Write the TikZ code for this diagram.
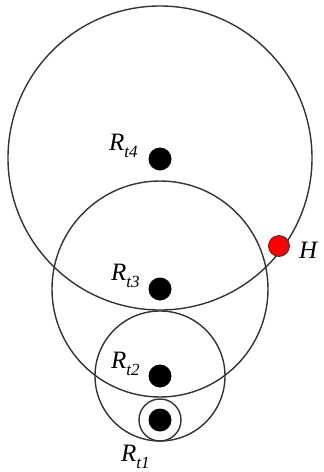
\documentclass[tikz,border=0pt]{standalone}
\usepackage{fontspec}
\setmainfont{Liberation Serif}
\newcommand{\Rlab}[1]{\textit{R}\raisebox{-0.28em}{\fontsize{17}{17}\selectfont\itshape #1}}
\begin{document}
\begin{tikzpicture}[x=1pt,y=-1pt,
  ring/.style={draw=black!80,line width=1.4pt},
  dot/.style={circle,fill=black,inner sep=0pt,minimum size=23pt},
  hdot/.style={circle,fill=red,draw=black!80,line width=0.8pt,inner sep=0pt,minimum size=21pt},
  lab/.style={font=\fontsize{25}{25}\selectfont,inner sep=0pt}]
\useasboundingbox (0,0) rectangle (324,472);
\draw[ring] (160,158) circle (152);
\draw[ring] (160,289) circle (108);
\draw[ring] (160,376) circle (65);
\draw[ring] (160,420) circle (21);
\node[dot] (r4) at (160,159) {};
\node[dot] (r3) at (160,289) {};
\node[dot] (r2) at (160,376) {};
\node[dot] (r1) at (160,420) {};
\node[hdot] (h) at (279,246) {};
\node[lab,anchor=base west] (l4) at (109,150) {\Rlab{t4}};
\node[lab,anchor=base west] (l3) at (111,280) {\Rlab{t3}};
\node[lab,anchor=base west] (l2) at (111,368) {\Rlab{t2}};
\node[lab,anchor=base west] (l1) at (121,461) {\Rlab{t1}};
\node[lab,anchor=base west] (lh) at (299,258) {\textit{H}};
\end{tikzpicture}
\end{document}
